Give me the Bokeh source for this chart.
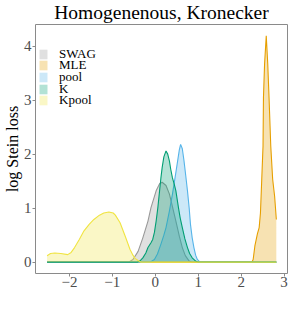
from bokeh.plotting import figure
from bokeh.models import Range1d, FixedTicker, Legend, LegendItem, ColumnDataSource
from bokeh.embed import file_html
from bokeh.resources import INLINE

title_text = "Homogenenous, Kronecker"
y_label_text = "log Stein loss"

series_names = ["SWAG", "MLE", "pool", "K", "Kpool"]
series_colors = ["#999999", "#E69F00", "#56B4E9", "#009E73", "#F0E442"]

x_ticks = [-2, -1, 0, 1, 2, 3]
x_tick_labels = ["\u22122", "\u22121", "0", "1", "2", "3"]
y_ticks = [0, 1, 2, 3, 4]
y_tick_labels = ["0", "1", "2", "3", "4"]

swag_x = [-2.52, -0.62, -0.52, -0.40, -0.29, -0.17, -0.10, 0.02, 0.10, 0.16, 0.25, 0.33, 0.40, 0.48, 0.56, 0.63, 0.70, 0.79, 0.86, 2.82]
swag_y = [0, 0, 0.05, 0.20, 0.45, 0.76, 1.01, 1.32, 1.45, 1.48, 1.42, 1.26, 1.03, 0.76, 0.48, 0.27, 0.12, 0.02, 0, 0]

mle_x = [-2.52, 2.25, 2.28, 2.32, 2.38, 2.42, 2.45, 2.48, 2.51, 2.52, 2.546, 2.585, 2.62, 2.65, 2.69, 2.735, 2.78, 2.82]
mle_y = [0, 0, 0.05, 0.30, 0.53, 0.64, 0.91, 1.53, 2.15, 3.05, 3.67, 4.19, 3.67, 3.05, 2.15, 1.53, 1.22, 0.79]

pool_x = [-2.52, -0.12, -0.02, 0.05, 0.13, 0.20, 0.25, 0.33, 0.40, 0.46, 0.52, 0.56, 0.59, 0.63, 0.67, 0.71, 0.75, 0.79, 0.82, 0.86, 0.90, 0.94, 0.98, 1.04, 2.82]
pool_y = [0, 0, 0.05, 0.15, 0.33, 0.50, 0.64, 0.95, 1.26, 1.56, 1.87, 2.08, 2.18, 2.10, 1.87, 1.60, 1.32, 1.00, 0.70, 0.45, 0.27, 0.13, 0.05, 0, 0]

k_x = [-2.52, -0.42, -0.35, -0.29, -0.22, -0.17, -0.10, -0.06, -0.02, 0.02, 0.06, 0.10, 0.13, 0.16, 0.20, 0.25, 0.29, 0.33, 0.36, 0.40, 0.44, 0.48, 0.54, 0.58, 0.63, 0.69, 0.75, 0.80, 0.86, 0.94, 1.00, 2.82]
k_y = [0, 0, 0.03, 0.08, 0.17, 0.27, 0.36, 0.42, 0.55, 0.76, 1.01, 1.32, 1.55, 1.75, 1.95, 2.06, 2.00, 1.87, 1.72, 1.56, 1.45, 1.32, 1.01, 0.82, 0.64, 0.43, 0.27, 0.16, 0.08, 0.02, 0, 0]

kpool_x = [-2.52, -2.44, -2.34, -2.20, -2.04, -1.96, -1.88, -1.77, -1.66, -1.54, -1.43, -1.30, -1.20, -1.08, -0.98, -0.93, -0.82, -0.70, -0.59, -0.52, -0.47, -0.40, -0.33, 2.82]
kpool_y = [0.12, 0.16, 0.17, 0.16, 0.14, 0.18, 0.27, 0.42, 0.58, 0.70, 0.79, 0.87, 0.91, 0.93, 0.91, 0.87, 0.73, 0.48, 0.24, 0.13, 0.07, 0.03, 0, 0]

series_x = [swag_x, mle_x, pool_x, k_x, kpool_x]
series_y = [swag_y, mle_y, pool_y, k_y, kpool_y]

SERIF = "Liberation Serif"
AXIS_GREY = "#8a8a8a"

W, H = 291, 309
BL, BR, BT, BB = 30, 4, 24, 36
FRAME_H = H - BT - BB

p = figure(width=W, height=H,
           x_range=Range1d(-2.79, 3.08), y_range=Range1d(-0.21, 4.40),
           output_backend="svg", toolbar_location=None,
           min_border_left=BL, min_border_right=BR, min_border_top=BT, min_border_bottom=BB)
p.background_fill_color = "white"
p.border_fill_color = "white"
p.outline_line_color = AXIS_GREY
p.outline_line_width = 1
p.xgrid.visible = False
p.ygrid.visible = False

p.title.text = title_text
p.title.text_font = SERIF
p.title.text_font_size = "19.5px"
p.title.text_font_style = "normal"
p.title.text_color = "black"
p.title.align = "center"
p.title.vertical_align = "top"
p.title.standoff = 0
p.title.offset = 0

legend_items = []
for name, color, xs, ys in zip(series_names, series_colors, series_x, series_y):
    src = ColumnDataSource(data=dict(x=xs, y=ys, y0=[0] * len(xs)))
    area = p.varea(x="x", y1="y0", y2="y", source=src, fill_color=color, fill_alpha=0.3)
    p.line(x="x", y="y", source=src, line_color=color, line_width=1.1)
    legend_items.append(LegendItem(label=name, renderers=[area]))

for ax, ticks, labels in ((p.xaxis, x_ticks, x_tick_labels), (p.yaxis, y_ticks, y_tick_labels)):
    ax.ticker = FixedTicker(ticks=ticks, minor_ticks=[])
    ax.major_label_overrides = {t: l for t, l in zip(ticks, labels)}
    ax.axis_line_color = None
    ax.major_tick_line_color = AXIS_GREY
    ax.major_tick_out = 3
    ax.major_tick_in = 0
    ax.minor_tick_line_color = None
    ax.major_label_text_font = SERIF
    ax.major_label_text_font_size = "15px"
    ax.major_label_text_color = "#4d4d4d"
p.xaxis.major_label_standoff = 0
p.yaxis.major_label_standoff = 1

p.yaxis.axis_label = y_label_text
p.yaxis.axis_label_text_font = SERIF
p.yaxis.axis_label_text_font_size = "16px"
p.yaxis.axis_label_text_font_style = "normal"
p.yaxis.axis_label_text_color = "black"
p.yaxis.axis_label_standoff = 0

# one single-item legend per series, stacked at the reference's row pitch
KEY = 12
ROW_PITCH = 11.7
ITEM_H = 16.5
FIRST_KEY_TOP = 23.3
for i, item in enumerate(legend_items):
    lg = Legend(items=[item],
                location=(3, FRAME_H - FIRST_KEY_TOP + (ITEM_H - KEY) / 2 - ITEM_H - i * ROW_PITCH),
                glyph_width=10, glyph_height=KEY, label_height=KEY, label_standoff=11, spacing=0,
                padding=0, margin=0, label_text_font=SERIF, label_text_font_size="13px",
                label_text_color="black", background_fill_alpha=0, border_line_color=None)
    p.add_layout(lg)

open("out.html", "w").write(file_html(p, INLINE))
